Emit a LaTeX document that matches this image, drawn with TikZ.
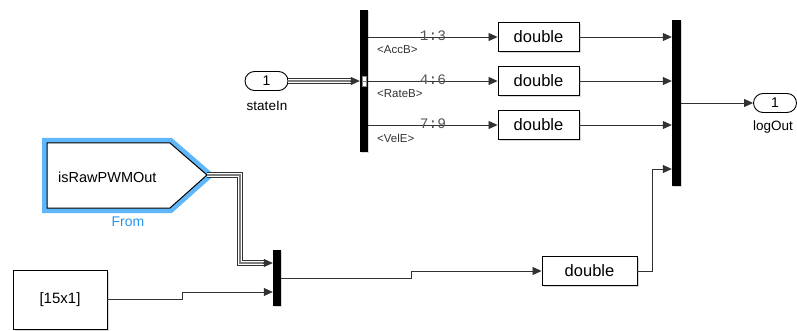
\documentclass[tikz,border=0pt]{standalone}
\usepackage{fontspec}
\setmainfont{Liberation Sans}
\newfontfamily\monof{Liberation Mono}
\usetikzlibrary{arrows.meta,shadows,calc}
\definecolor{hiblue}{RGB}{95,183,250}
\definecolor{fromtxt}{RGB}{40,150,240}
\definecolor{sigcol}{RGB}{50,50,50}
\definecolor{idxcol}{RGB}{85,85,85}
\begin{document}
\begin{tikzpicture}[x=1pt,y=-1pt,
  sig/.style={draw=sigcol, line width=0.8pt, -{Triangle[length=9pt,width=8pt]}},
  plain/.style={draw=sigcol, line width=0.8pt},
  busouter/.style={draw=sigcol, line width=5.5pt},
  businner/.style={draw=white, line width=3.6pt},
  buscore/.style={draw=gray, line width=1.2pt},
  bar/.style={fill=black, draw=none, inner sep=0pt, minimum width=8pt,
    drop shadow={shadow xshift=1.2pt,shadow yshift=-1.2pt,opacity=0.3}},
  blk/.style={draw=black, line width=0.9pt, fill=white, inner sep=0pt,
    drop shadow={shadow xshift=1.5pt,shadow yshift=-1.5pt,opacity=0.3}},
  dbl/.style={blk, minimum width=81pt, minimum height=29pt, font=\fontsize{16.5}{18}\selectfont},
  port/.style={draw=black, line width=0.9pt, fill=white, rounded corners=9.5pt,
    minimum width=43pt, minimum height=19pt, inner sep=0pt, font=\fontsize{14}{16}\selectfont},
  plbl/.style={font=\fontsize{13.5}{15}\selectfont, inner sep=0pt},
  idx/.style={font=\monof\fontsize{14.5}{15}\selectfont, text=idxcol, inner sep=0pt},
  sname/.style={font=\fontsize{11.5}{13}\selectfont, text=sigcol, inner sep=0pt, anchor=west}
]
\useasboundingbox (0,0) rectangle (797,331);

% ---- blocks ----
\node[port] (sin) at (266.5,81) {1};
\node[plbl] (sinl) at (267,106) {stateIn};

\node[bar, minimum height=142pt] (bs) at (364,81) {};
\node[draw=gray, fill=white, line width=0.4pt, minimum width=4pt, minimum height=10pt, inner sep=0pt] (bsport) at (364,81) {};
\draw[gray, line width=0.4pt] (bsport.west) -- (bsport.east);

\node[dbl] (d1) at (538.5,37) {double};
\node[dbl] (d2) at (538.5,81) {double};
\node[dbl] (d3) at (538.5,125) {double};

\node[bar, minimum width=9pt, minimum height=166pt] (bc) at (676.5,103) {};

\node[port] (lo) at (775,103) {1};
\node[plbl] (lol) at (773,127) {logOut};

% From block
\draw[hiblue, line width=10pt, line join=miter] (47,143) -- (170,143) -- (207,175) -- (170,208) -- (47,208) -- cycle;
\filldraw[fill=white, draw=black, line width=1pt, line join=miter] (47,143) -- (170,143) -- (207,175) -- (170,208) -- (47,208) -- cycle;
\coordinate (fromtip) at (207,175);
\node[anchor=west, inner sep=0pt, font=\fontsize{14.5}{16}\selectfont] (fromtxt) at (58,177) {isRawPWMOut};
\node[inner sep=0pt, text=fromtxt, font=\fontsize{14}{16}\selectfont] (froml) at (128,222) {From};

\node[bar, minimum height=56pt] (bc2) at (277,278) {};
\coordinate (bc2a) at ($(bc2.west)+(0,-15)$);
\coordinate (bc2b) at ($(bc2.west)+(0,14)$);

\node[blk, minimum width=94pt, minimum height=59pt, font=\fontsize{15}{17}\selectfont] (cst) at (60,299.5) {[15x1]};

\node[dbl, minimum width=95pt] (d4) at (589.5,271) {double};
\coordinate (bcd) at ($(bc.west)+(0,66)$);

% ---- bus lines ----
\draw[busouter, shorten >=8pt] (sin.east) -- (sin.east -| bs.west);
\draw[businner, shorten >=8pt] (sin.east) -- (sin.east -| bs.west);
\draw[buscore, shorten >=8pt] (sin.east) -- (sin.east -| bs.west);
\draw[sig] ($(sin.east -| bs.west)+(-10,0)$) -- (sin.east -| bs.west);

\draw[busouter, shorten >=8pt, line join=miter] (fromtip) -- (240,175) |- (bc2a);
\draw[businner, shorten >=8pt, line join=miter] (fromtip) -- (240,175) |- (bc2a);
\draw[buscore, shorten >=8pt, line join=miter] (fromtip) -- (240,175) |- (bc2a);
\draw[sig] ($(bc2a)+(-10,0)$) -- (bc2a);

% ---- signal lines ----
\draw[sig] (bs.east |- d1.west) -- (d1.west);
\draw[sig] (bs.east |- d2.west) -- (d2.west);
\draw[sig] (bs.east |- d3.west) -- (d3.west);

\node[idx] (i1) at (433,36) {1:3};
\node[idx] (i2) at (433,80) {4:6};
\node[idx] (i3) at (433,124) {7:9};
\node[sname] (n1) at (377,50) {<AccB>};
\node[sname] (n2) at (377,94) {<RateB>};
\node[sname] (n3) at (377,138) {<VelE>};

\draw[sig] (d1.east) -- (d1.east -| bc.west);
\draw[sig] (d2.east) -- (d2.east -| bc.west);
\draw[sig] (d3.east) -- (d3.east -| bc.west);
\draw[sig] (d4.east) -- ++(15,0) |- (bcd);
\draw[sig] (bc.east) -- (lo.west);

\draw[sig] (cst.east) -- (182,299.5) |- (bc2b);
\draw[sig] (bc2.east) -- (411,278) |- (d4.west);
\end{tikzpicture}
\end{document}
